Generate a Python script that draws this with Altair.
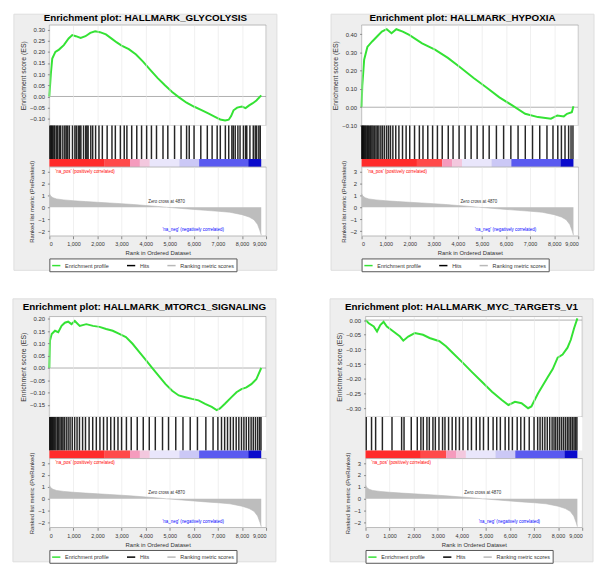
import altair as alt
import pandas as pd

FONT = "Liberation Sans"

# ---------------- data ----------------
x_tick_values = [0, 1000, 2000, 3000, 4000, 5000, 6000, 7000, 8000, 9000]
x_max = 9000

# ranked list metric (shared by all four plots)
metric_rank = [0, 50, 150, 300, 600, 1000, 1500, 2000, 2500, 3000, 3500, 4000, 4500, 4870,
               5500, 6000, 6500, 7000, 7500, 8000, 8300, 8500, 8650, 8750, 8800]
metric_value = [1.15, 0.95, 0.80, 0.70, 0.62, 0.55, 0.48, 0.42, 0.36, 0.30, 0.23, 0.15, 0.07, 0.0,
                -0.10, -0.18, -0.26, -0.33, -0.42, -0.62, -0.82, -1.05, -1.45, -2.00, -2.35]
metric_ticks = [-2, -1, 0, 1, 2, 3]
metric_domain = [-2.4, 3.4]

pos_label = "'na_pos' (positively correlated)"
neg_label = "'na_neg' (negatively correlated)"
zero_label = "Zero cross at 4870"
pos_label_rank, pos_label_value = 250, 3.0
neg_label_rank, neg_label_value = 4700, -1.95
zero_label_rank, zero_label_value = 4870, 0.45

# colour bar segments (rank start / end)
cb_start = [0, 2300, 3350, 3760, 4170, 5400, 6220, 8260]
cb_end = [2300, 3350, 3760, 4170, 5400, 6220, 8260, 8800]

legend_labels = ["Enrichment profile", "Hits", "Ranking metric scores"]

# HALLMARK_GLYCOLYSIS
glyco_rank = [0, 60, 120, 250, 400, 600, 800, 950, 1100, 1300, 1500, 1700, 1900, 2100, 2350, 2600,
              2800, 3000, 3300, 3600, 3900, 4200, 4500, 4800, 5100, 5400, 5700, 6000, 6300, 6600,
              6900, 7100, 7300, 7450, 7550, 7650, 7800, 8000, 8150, 8300, 8450, 8600, 8800]
glyco_es = [0.0, 0.10, 0.17, 0.20, 0.21, 0.23, 0.26, 0.275, 0.27, 0.262, 0.27, 0.285, 0.292, 0.288,
            0.278, 0.258, 0.242, 0.228, 0.212, 0.188, 0.155, 0.118, 0.082, 0.050, 0.020, -0.005,
            -0.028, -0.045, -0.060, -0.076, -0.092, -0.103, -0.108, -0.104, -0.088, -0.062, -0.050,
            -0.045, -0.052, -0.040, -0.030, -0.018, 0.005]
glyco_hits = [20, 60, 95, 140, 190, 230, 300, 350, 420, 470, 560, 640, 700, 760, 830, 960, 1060,
              1120, 1200, 1260, 1310, 1420, 1510, 1560, 1610, 1720, 1800, 1920, 2060, 2200, 2400,
              2600, 2740, 2950, 3110, 3220, 3420, 3630, 3830, 4040, 4240, 4450, 4720, 4920, 5200,
              5470, 5700, 5810, 6010, 6290, 6560, 6760, 6970, 7100, 7310, 7450, 7580, 7640, 7720,
              7830, 7920, 8060, 8150, 8200, 8330, 8470, 8550, 8610, 8700, 8760]
glyco_domain = [-0.13, 0.32]
glyco_ticks = [-0.10, -0.05, 0.0, 0.05, 0.10, 0.15, 0.20, 0.25, 0.30]

# HALLMARK_HYPOXIA
hyp_rank = [0, 30, 107, 241, 441, 642, 843, 1043, 1244, 1444, 1712, 1979, 2514, 3049, 3584, 4119,
            4654, 5189, 5724, 6259, 6794, 7329, 7864, 8131, 8400, 8532, 8733, 8800]
hyp_es = [0.0, 0.12, 0.26, 0.33, 0.36, 0.387, 0.414, 0.427, 0.405, 0.427, 0.414, 0.396, 0.35, 0.315,
          0.27, 0.216, 0.16, 0.108, 0.054, 0.01, -0.036, -0.054, -0.063, -0.045, -0.05, -0.036,
          -0.027, 0.005]
hyp_hits = [10, 40, 70, 110, 150, 190, 240, 280, 330, 380, 430, 480, 540, 600, 660, 720, 800, 870,
            950, 1040, 1120, 1200, 1300, 1420, 1550, 1700, 1850, 2000, 2200, 2400, 2550, 2750,
            2950, 3150, 3350, 3600, 3800, 4050, 4300, 4550, 4800, 5050, 5300, 5600, 5900, 6200,
            6500, 6800, 7100, 7400, 7700, 7950, 8150, 8300, 8450, 8600, 8700, 8780]
hyp_domain = [-0.10, 0.45]
hyp_ticks = [-0.1, 0.0, 0.1, 0.2, 0.3, 0.4]

# HALLMARK_MTORC1_SIGNALING
mtor_rank = [0, 10, 27, 96, 233, 370, 507, 644, 781, 918, 1056, 1261, 1535, 1810, 2084, 2358, 2632,
             2906, 3180, 3455, 3729, 4003, 4277, 4551, 4826, 5100, 5374, 5648, 5922, 6196, 6470,
             6744, 6950, 7087, 7292, 7566, 7772, 7978, 8184, 8389, 8595, 8800]
mtor_es = [0.0, 0.04, 0.112, 0.139, 0.152, 0.146, 0.172, 0.185, 0.189, 0.179, 0.192, 0.172, 0.179,
           0.172, 0.168, 0.159, 0.152, 0.139, 0.126, 0.099, 0.066, 0.033, 0.0, -0.033, -0.066,
           -0.093, -0.112, -0.119, -0.126, -0.132, -0.146, -0.159, -0.172, -0.165, -0.146, -0.119,
           -0.099, -0.086, -0.079, -0.066, -0.046, 0.0]
mtor_hits = [15, 50, 90, 130, 170, 220, 270, 330, 380, 440, 500, 560, 620, 700, 780, 860, 950, 1050,
             1150, 1250, 1380, 1500, 1650, 1800, 1950, 2100, 2250, 2400, 2550, 2700, 2850, 3000,
             3200, 3400, 3650, 3900, 4150, 4400, 4700, 4950, 5250, 5550, 5850, 6150, 6500, 6800,
             7000, 7150, 7280, 7400, 7520, 7640, 7760, 7870, 7980, 8080, 8180, 8280, 8380, 8470,
             8560, 8650, 8730, 8790]
mtor_domain = [-0.20, 0.21]
mtor_ticks = [-0.15, -0.10, -0.05, 0.0, 0.05, 0.10, 0.15, 0.20]

# HALLMARK_MYC_TARGETS_V1
myc_rank = [0, 136, 341, 478, 614, 750, 887, 1160, 1432, 1569, 1774, 2047, 2387, 2660, 3070, 3343,
            3615, 4025, 4434, 4843, 5253, 5662, 5935, 6208, 6481, 6753, 6890, 7026, 7163, 7367,
            7572, 7776, 7981, 8186, 8390, 8527, 8663, 8800]
myc_es = [0.0, -0.011, -0.022, -0.039, -0.017, -0.006, -0.022, -0.039, -0.056, -0.07, -0.056,
          -0.044, -0.05, -0.061, -0.072, -0.089, -0.111, -0.144, -0.178, -0.211, -0.244, -0.272,
          -0.289, -0.278, -0.283, -0.300, -0.294, -0.272, -0.25, -0.222, -0.194, -0.167, -0.128,
          -0.117, -0.094, -0.067, -0.028, 0.006]
myc_hits = [30, 250, 420, 700, 1100, 1500, 1600, 1900, 2150, 2300, 2400, 2550, 2650, 2800, 2900,
            3050, 3200, 3300, 3450, 3600, 3750, 3900, 4050, 4250, 4400, 4600, 4750, 4900, 5100,
            5300, 5450, 5600, 5800, 5950, 6100, 6300, 6450, 6600, 6800, 7000, 7150, 7250, 7350,
            7450, 7550, 7650, 7750, 7830, 7900, 7980, 8060, 8140, 8220, 8300, 8380, 8450, 8520,
            8590, 8660, 8720, 8780]
myc_domain = [-0.33, 0.012]
myc_ticks = [-0.30, -0.25, -0.20, -0.15, -0.10, -0.05, 0.0]

# ---------------- styles ----------------
cb_colors = ["#ff2b2b", "#ff4a4a", "#f59bbd", "#f3c8de", "#e9e6fb", "#cbc8f6", "#5a5af0", "#0b0bcc"]
legend_colors = ["#34e234", "#000000", "#b8b8b8"]
GRAY = "#eeeeee"
GREEN = "#34e234"
W = 220
H_ES, H_HIT, H_CB, H_RANK = 102, 34, 8, 70
BELOW = 35
LABEL_COLOR = "#333333"

X_SCALE = alt.Scale(domain=[0, x_max], nice=False, zero=False)


def make_panel(name, es_rank, es_val, hits, dom, ticks, gl, gr, gt, toff):
    total = H_ES + H_HIT + H_CB + H_RANK + BELOW
    one = pd.DataFrame({"k": [0]})
    bg = alt.Chart(one).mark_rect(fill=GRAY, stroke="#dddddd", strokeWidth=1).encode(
        x=alt.value(-gl), x2=alt.value(W + gr), y=alt.value(-gt), y2=alt.value(total))
    plot_bg = alt.Chart(one).mark_rect(fill="white", stroke="#a0a0a0", strokeWidth=0.7).encode(
        x=alt.value(0), x2=alt.value(W), y=alt.value(0), y2=alt.value(H_ES))
    yscale = alt.Scale(domain=dom, nice=False, zero=False)
    es_yaxis = alt.Axis(title="Enrichment score (ES)", values=ticks, format=".2f",
                        labelFontSize=6, titleFontSize=7, titleFontWeight="normal",
                        tickSize=2, labelPadding=3, titlePadding=3, domain=False, grid=False,
                        labelOverlap=False, labelColor=LABEL_COLOR, titleColor=LABEL_COLOR,
                        tickColor="#888888", zindex=1)
    es_xaxis = alt.Axis(title=None, labels=False, ticks=False, domain=False, grid=True,
                        values=x_tick_values, gridColor="#e6e6e6", gridWidth=0.6, zindex=1)
    es_df = pd.DataFrame({"rank": es_rank, "es": es_val})
    zero_df = pd.DataFrame({"es": [0.0]})
    zero_rule = alt.Chart(zero_df).mark_rule(color="#8c8c8c", strokeWidth=0.7).encode(
        y=alt.Y("es:Q", scale=yscale, axis=es_yaxis))
    line = alt.Chart(es_df).mark_line(color=GREEN, strokeWidth=2).encode(
        x=alt.X("rank:Q", scale=X_SCALE, axis=es_xaxis),
        y=alt.Y("es:Q", scale=yscale, axis=es_yaxis))
    es_chart = alt.layer(bg, plot_bg, zero_rule, line).properties(
        width=W, height=H_ES,
        title=alt.Title(f"Enrichment plot: {name}", fontSize=10, fontWeight="bold", font=FONT,
                        anchor="middle", frame="bounds", offset=toff, color="black"))

    hits_df = pd.DataFrame({"rank": hits})
    hits_chart = alt.Chart(hits_df).mark_rule(color="black", strokeWidth=1.5, opacity=0.85).encode(
        x=alt.X("rank:Q", scale=X_SCALE, axis=None)).properties(
        width=W, height=H_HIT, view=alt.ViewBackground(fill="white", strokeWidth=0))

    cb_df = pd.DataFrame({"start": cb_start, "end": cb_end, "seg": list(range(len(cb_start)))})
    cb_chart = alt.Chart(cb_df).mark_rect().encode(
        x=alt.X("start:Q", scale=X_SCALE, axis=None), x2="end:Q",
        color=alt.Color("seg:O", scale=alt.Scale(domain=list(range(len(cb_start))), range=cb_colors),
                        legend=None)).properties(width=W, height=H_CB)

    m_df = pd.DataFrame({"rank": metric_rank, "metric": metric_value,
                         "series": [legend_labels[2]] * len(metric_rank)})
    my = alt.Scale(domain=metric_domain, nice=False, zero=False)
    r_xaxis = alt.Axis(title="Rank in Ordered Dataset", values=x_tick_values, format=",.0f",
                       labelFontSize=5.5, titleFontSize=6, titleFontWeight="normal",
                       tickSize=3, labelPadding=3, titlePadding=3, grid=True,
                       gridColor="#e6e6e6", gridWidth=0.6, domain=False, labelOverlap=False,
                       labelColor=LABEL_COLOR, titleColor=LABEL_COLOR, tickColor="#888888")
    r_yaxis = alt.Axis(title="Ranked list metric (PreRanked)", values=metric_ticks, format="d",
                       labelFontSize=6, titleFontSize=6, titleFontWeight="normal",
                       tickSize=2, labelPadding=3, titlePadding=3, domain=False, grid=False,
                       labelOverlap=False, labelColor=LABEL_COLOR, titleColor=LABEL_COLOR,
                       tickColor="#888888")
    rx = alt.X("rank:Q", scale=X_SCALE, axis=r_xaxis)
    ry = alt.Y("metric:Q", scale=my, axis=r_yaxis)
    area = alt.Chart(m_df).mark_area(color="#bdbdbd").encode(x=rx, y=ry, y2=alt.datum(0))
    legend_line = alt.Chart(m_df).mark_line(strokeWidth=0.6).encode(
        x=rx, y=ry,
        color=alt.Color("series:N", scale=alt.Scale(domain=legend_labels, range=legend_colors),
                        legend=alt.Legend(orient="bottom", direction="horizontal", title=None,
                                          labelFontSize=5.5, labelFont=FONT, labelColor=LABEL_COLOR,
                                          symbolType="stroke", symbolSize=70, symbolStrokeWidth=1.5,
                                          columnPadding=14, padding=2, offset=2,
                                          strokeColor="#555555", fillColor="white", labelLimit=0)))
    pos_df = pd.DataFrame({"rank": [pos_label_rank], "metric": [pos_label_value], "label": [pos_label]})
    neg_df = pd.DataFrame({"rank": [neg_label_rank], "metric": [neg_label_value], "label": [neg_label]})
    zero_tdf = pd.DataFrame({"rank": [zero_label_rank], "metric": [zero_label_value], "label": [zero_label]})
    pos_t = alt.Chart(pos_df).mark_text(align="left", baseline="middle", fontSize=4.5, color="#ff0000").encode(
        x=rx, y=ry, text="label:N")
    neg_t = alt.Chart(neg_df).mark_text(align="left", baseline="middle", fontSize=4.5, color="#0000ff").encode(
        x=rx, y=ry, text="label:N")
    zero_t = alt.Chart(zero_tdf).mark_text(align="center", baseline="middle", fontSize=4.5, color="#333333").encode(
        x=rx, y=ry, text="label:N")
    rank_chart = alt.layer(area, legend_line, pos_t, zero_t, neg_t).properties(
        width=W, height=H_RANK,
        view=alt.ViewBackground(fill="white", stroke="#a0a0a0", strokeWidth=0.7))

    return alt.vconcat(es_chart, hits_chart, cb_chart, rank_chart, spacing=0,
                       bounds="flush").resolve_scale(color="independent")


p1 = make_panel("HALLMARK_GLYCOLYSIS", glyco_rank, glyco_es, glyco_hits, glyco_domain, glyco_ticks,
                36, 11, 11, -9)
p2 = make_panel("HALLMARK_HYPOXIA", hyp_rank, hyp_es, hyp_hits, hyp_domain, hyp_ticks,
                31, 16, 11, -9)
p3 = make_panel("HALLMARK_MTORC1_SIGNALING", mtor_rank, mtor_es, mtor_hits, mtor_domain, mtor_ticks,
                37, 10, 18, -14)
p4 = make_panel("HALLMARK_MYC_TARGETS_V1", myc_rank, myc_es, myc_hits, myc_domain, myc_ticks,
                36, 11, 18, -14)

row1 = alt.hconcat(p1, p2, spacing=53).resolve_scale(color="independent")
row2 = alt.hconcat(p3, p4, spacing=53).resolve_scale(color="independent")
chart = alt.vconcat(row1, row2, spacing=26).resolve_scale(color="independent").properties(
    padding={"left": 4, "top": 0, "right": 0, "bottom": 0}
).configure(font=FONT).configure_view(strokeWidth=0)

chart.save("out.html", embed_options={"renderer": "svg", "actions": False})
